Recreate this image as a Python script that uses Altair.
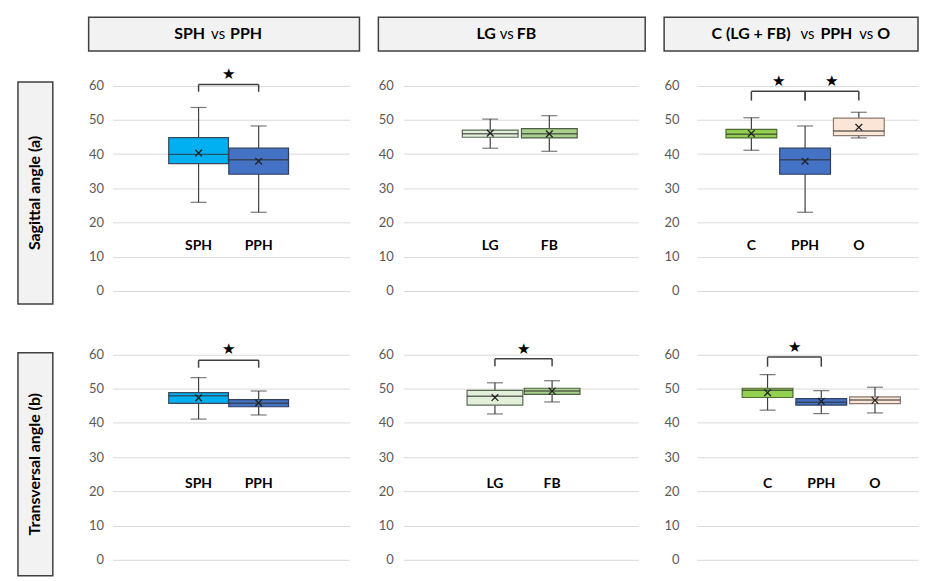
import altair as alt
import pandas as pd

FONT = "Lato"

# ---------------- data ----------------
panel_titles = [
    [("SPH", "bold"), ("vs", "normal"), ("PPH", "bold")],
    [("LG", "bold"), ("vs", "normal"), ("FB", "bold")],
    [("C (LG + FB)", "bold"), ("vs", "normal"), ("PPH", "bold"), ("vs", "normal"), ("O", "bold")],
]
row_titles = ["Sagittal angle (a)", "Transversal angle (b)"]

cats = [["SPH", "PPH"], ["LG", "FB"], ["C", "PPH", "O"]]

# Sagittal angle (a)
low_a = [[25.9, 23.0], [41.7, 40.8], [41.1, 23.0, 44.7]]
q1_a = [[37.2, 34.1], [44.9, 44.7], [44.7, 34.1, 45.4]]
med_a = [[39.9, 38.3], [45.9, 45.9], [45.8, 38.3, 46.7]]
q3_a = [[44.8, 41.7], [47.0, 47.4], [47.2, 41.7, 50.5]]
high_a = [[53.6, 48.2], [50.2, 51.2], [50.6, 48.2, 52.2]]
mean_a = [[40.3, 37.9], [46.1, 45.9], [46.0, 37.9, 47.8]]

# Transversal angle (b)
low_b = [[41.1, 42.3], [42.6, 46.1], [43.7, 42.7, 42.9]]
q1_b = [[45.7, 44.7], [45.2, 48.3], [47.4, 45.2, 45.6]]
med_b = [[47.9, 45.7], [47.8, 49.3], [49.5, 46.0, 46.7]]
q3_b = [[48.8, 46.8], [49.5, 50.1], [50.1, 47.1, 47.6]]
high_b = [[53.2, 49.3], [51.7, 52.3], [54.1, 49.4, 50.4]]
mean_b = [[47.3, 45.8], [47.4, 49.3], [48.8, 46.3, 46.6]]

# significance brackets: (from category, to category, bracket top, bracket end, star)
sig_a = [[("SPH", "PPH", 60.3, 58.2, 63.4)], [],
         [("C", "PPH", 58.3, 55.6, 61.4), ("PPH", "O", 58.3, 55.6, 61.4)]]
sig_b = [[("SPH", "PPH", 58.3, 56.1, 61.5)], [("LG", "FB", 58.7, 56.5, 61.7)],
         [("C", "PPH", 59.2, 56.4, 62.0)]]

cat_colors = {"SPH": "#00b0f0", "PPH": "#4472c4", "LG": "#e2f0d9",
              "FB": "#a9d18e", "C": "#92d050", "O": "#fbe5d6"}
cat_strokes = {"SPH": "#3a4a5a", "PPH": "#2f3f5f", "LG": "#5a6a55",
               "FB": "#4f5f45", "C": "#4f6a35", "O": "#8a7a70"}

# ---------------- layout ----------------
PLOT_W = [238, 236, 222]
PLOT_H = 227
BOX_W = [60, 56, 51]
LABEL_PAD = [9, 10, 18]
XDOM_A = [[-0.349, 3.429], [-0.387, 3.42], [0.080, 4.009]]
XDOM_B = [[-0.349, 3.429], [-0.517, 3.42], [-0.221, 3.708]]
LABEL_Y = [13, 22]
HEADER_L = [-24, -25, -33]      # header box left edge relative to plot origin
HEADER_R = [248, 243, 222]      # header box right edge relative to plot origin
HEADER_H = 34
HEADER_X = [[117, 130, 142], [118, 129, 139], [127, 144, 173, 203, 214]]
HEADER_ALIGN = [["right", "center", "left"], ["right", "center", "left"],
                ["right", "center", "center", "center", "left"]]

ink = "#404040"
all_cats = list(cat_colors.keys())


def panel(j, lo, q1, md, q3, hi, mn, sigs, xdom, label_y):
    c = cats[j]
    df = pd.DataFrame({"cat": c, "pos": list(range(1, len(c) + 1)),
                       "low": lo, "q1": q1, "med": md, "q3": q3,
                       "high": hi, "mean": mn})
    idx = {k: i + 1 for i, k in enumerate(c)}
    xs = alt.Scale(domain=xdom, nice=False, zero=False)
    ys = alt.Scale(domain=[0, 66], nice=False)
    yaxis = alt.Axis(values=[0, 10, 20, 30, 40, 50, 60], title=None, grid=True,
                     domain=False, ticks=False, labelPadding=LABEL_PAD[j])
    X = lambda f: alt.X(f, scale=xs, axis=None)
    Y = lambda f: alt.Y(f, scale=ys, axis=yaxis)
    base = alt.Chart(df)
    layers = [
        base.mark_rule(color=ink, strokeWidth=1.2).encode(x=X("pos:Q"), y=Y("low:Q"), y2="high:Q"),
        base.mark_tick(orient="horizontal", size=16, thickness=1.2, color=ink).encode(x=X("pos:Q"), y=Y("low:Q")),
        base.mark_tick(orient="horizontal", size=16, thickness=1.2, color=ink).encode(x=X("pos:Q"), y=Y("high:Q")),
        base.mark_bar(size=BOX_W[j], strokeWidth=1.2, opacity=1).encode(
            x=X("pos:Q"), y=Y("q1:Q"), y2="q3:Q",
            fill=alt.Fill("cat:N", scale=alt.Scale(domain=all_cats, range=[cat_colors[k] for k in all_cats]), legend=None),
            stroke=alt.Stroke("cat:N", scale=alt.Scale(domain=all_cats, range=[cat_strokes[k] for k in all_cats]), legend=None)),
        base.mark_tick(orient="horizontal", size=BOX_W[j], thickness=1.5, color="#303030").encode(x=X("pos:Q"), y=Y("med:Q")),
        base.mark_point(shape="M-1,-1L1,1M-1,1L1,-1", size=45, filled=False, strokeWidth=1.3, color="#202020", opacity=1).encode(x=X("pos:Q"), y=Y("mean:Q")),
        base.mark_text(font=FONT, fontWeight="bold", fontSize=14, color="black").encode(
            x=X("pos:Q"), y=alt.YDatum(label_y, scale=ys, axis=yaxis), text="cat:N"),
    ]
    if sigs:
        hz = pd.DataFrame({"x1": [idx[s[0]] for s in sigs], "x2": [idx[s[1]] for s in sigs],
                           "top": [s[2] for s in sigs], "bot": [s[3] for s in sigs],
                           "star": [s[4] for s in sigs]})
        hz["mid"] = (hz["x1"] + hz["x2"]) / 2
        vt = pd.DataFrame({"x": list(hz["x1"]) + list(hz["x2"]),
                           "top": list(hz["top"]) * 2, "bot": list(hz["bot"]) * 2})
        layers += [
            alt.Chart(hz).mark_rule(color=ink, strokeWidth=1.5).encode(x=X("x1:Q"), x2="x2:Q", y=Y("top:Q")),
            alt.Chart(vt).mark_rule(color=ink, strokeWidth=1.5).encode(x=X("x:Q"), y=Y("bot:Q"), y2="top:Q"),
            alt.Chart(hz).mark_text(text="★", fontSize=15, color="black", baseline="middle").encode(x=X("mid:Q"), y=Y("star:Q")),
        ]
    return alt.layer(*layers).properties(width=PLOT_W[j], height=PLOT_H)


one = pd.DataFrame({"k": [0]})


def header(j):
    l, r = HEADER_L[j], HEADER_R[j]
    layers = [alt.Chart(one).mark_rect(fill="#f2f2f2", stroke=ink, strokeWidth=1.5).encode(
        x=alt.value(l), x2=alt.value(r), y=alt.value(0), y2=alt.value(HEADER_H))]
    for (t, wt), xx, al in zip(panel_titles[j], HEADER_X[j], HEADER_ALIGN[j]):
        layers.append(alt.Chart(one).mark_text(text=t, font=FONT, fontWeight=wt,
                                               fontSize=16 if wt == "bold" else 15,
                                               color="black", align=al, baseline="middle").encode(
            x=alt.value(l + xx), y=alt.value(HEADER_H / 2)))
    return alt.layer(*layers).properties(width=PLOT_W[j], height=HEADER_H)


def row_box(i, h):
    rect = alt.Chart(one).mark_rect(fill="#f2f2f2", stroke=ink, strokeWidth=1.5).encode(
        x=alt.value(0), x2=alt.value(35), y=alt.value(0), y2=alt.value(h))
    txt = alt.Chart(one).mark_text(text=row_titles[i], font=FONT, fontWeight="bold", fontSize=16,
                                   color="black", angle=270, align="center", baseline="middle").encode(
        x=alt.value(17.5), y=alt.value(h / 2))
    return alt.layer(rect, txt).properties(width=35, height=h)


blank = alt.Chart(one).mark_rect(opacity=0).encode(
    x=alt.value(0), x2=alt.value(35), y=alt.value(0), y2=alt.value(HEADER_H)
).properties(width=35, height=HEADER_H)
label_col = alt.vconcat(blank, alt.vconcat(row_box(0, 223), row_box(1, 224), spacing=47), spacing=30)

cols = []
for j in range(3):
    pa = panel(j, low_a[j], q1_a[j], med_a[j], q3_a[j], high_a[j], mean_a[j], sig_a[j], XDOM_A[j], LABEL_Y[0])
    pb = panel(j, low_b[j], q1_b[j], med_b[j], q3_b[j], high_b[j], mean_b[j], sig_b[j], XDOM_B[j], LABEL_Y[1])
    cols.append(alt.vconcat(header(j), alt.vconcat(pa, pb, spacing=36), spacing=13))

chart = alt.hconcat(label_col, alt.hconcat(*cols, spacing=17), spacing=34).properties(
    padding={"left": 9, "top": 7, "right": 0, "bottom": 0}
).configure_view(stroke=None).configure_axis(
    labelFont=FONT, labelColor="#595959", labelFontSize=13, gridColor="#d9d9d9", gridWidth=1
)

chart.save("out.html", embed_options={"renderer": "svg", "actions": False})
